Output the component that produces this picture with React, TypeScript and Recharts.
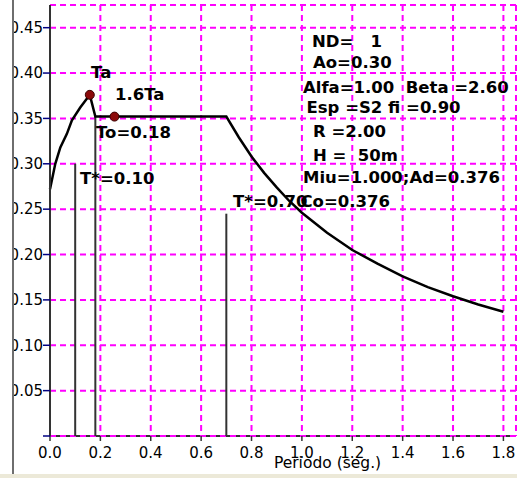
import {
  ComposedChart,
  Line,
  XAxis,
  YAxis,
  CartesianGrid,
  ReferenceLine,
  ReferenceDot,
} from "recharts";

/* ---------------- Spectrum data ---------------- */

// period T (s)
const PERIODS = [
  0, 0.021, 0.041, 0.067, 0.087, 0.12, 0.158, 0.18, 0.7, 0.75, 0.8, 0.85, 0.9,
  0.95, 1.0, 1.1, 1.2, 1.3, 1.4, 1.5, 1.6, 1.7, 1.8,
];
// spectral ordinate
const SPECTRUM = [
  0.272, 0.3, 0.318, 0.333, 0.348, 0.362, 0.376, 0.352, 0.352, 0.329, 0.308,
  0.29, 0.274, 0.259, 0.246, 0.224, 0.205, 0.19, 0.176, 0.164, 0.154, 0.145,
  0.137,
];

// Ta and 1.6Ta markers
const MARKER_T = [0.158, 0.256];
const MARKER_V = [0.376, 0.352];

// vertical guide lines: T*=0.10, To=0.18, T*=0.70
const GUIDE_T = [0.1, 0.18, 0.7];
const GUIDE_TOP = [0.3, 0.352, 0.245];

const X_TICKS = [0, 0.2, 0.4, 0.6, 0.8, 1.0, 1.2, 1.4, 1.6, 1.8];
const Y_TICKS = [0, 0.05, 0.1, 0.15, 0.2, 0.25, 0.3, 0.35, 0.4, 0.45];

const X_TITLE = "Periodo (seg.)";

const CURVE_LABELS = ["Ta", "1.6Ta", "To=0.18", "T*=0.10", "T*=0.70", "Co=0.376"];
const PARAM_LINES = [
  "ND=   1",
  "Ao=0.30",
  "Alfa=1.00  Beta =2.60",
  "Esp =S2 fi =0.90",
  "R =2.00",
  "H =  50m",
  "Miu=1.000;Ad=0.376",
];

/* ---------------- Layout (pixels) ---------------- */

const CURVE_LABEL_POS = [
  [91, 77.5],
  [115, 100],
  [96, 138],
  [80, 184],
  [233, 206.5],
  [300.5, 206.5],
];
const PARAM_POS = [
  [312, 47],
  [313, 68],
  [303, 92.5],
  [306.5, 113],
  [313, 137],
  [313, 160.5],
  [303, 183],
];

const MAGENTA = "#ff00ff";
const tickFont = { fontFamily: "DejaVu Sans", fontSize: 15, fill: "#000" };

// keep runs of spaces visible in svg text
const keepSpaces = (s: string) => s.replace(/ /g, "\u00a0");

export default function App() {
  const data = PERIODS.map((t, i) => ({ t, v: SPECTRUM[i] }));

  return (
    <div
      style={{
        position: "fixed",
        left: 0,
        top: 0,
        width: 517,
        height: 478,
        background: "#fff",
        overflow: "hidden",
      }}
    >
      {/* panel frame on the left + status strip at the bottom */}
      <div style={{ position: "absolute", left: 12, top: 0, width: 1.5, height: 474, background: "#6e6e6e" }} />
      <div style={{ position: "absolute", left: 0, top: 474, width: 517, height: 4, background: "#ece9d8" }} />

      {/* chart, clipped at the panel edge */}
      <div style={{ position: "absolute", left: 14, top: 0, width: 503, height: 474, overflow: "hidden" }}>
        <div style={{ position: "absolute", left: -14, top: 0 }}>
          <ComposedChart
            width={517}
            height={474}
            data={data}
            margin={{ top: 5, right: 1, left: 0, bottom: 0 }}
          >
            <CartesianGrid stroke={MAGENTA} strokeWidth={2} strokeDasharray="6 4" />
            <XAxis
              dataKey="t"
              type="number"
              domain={[0, 1.85]}
              ticks={X_TICKS}
              interval={0}
              tickFormatter={(v: number) => v.toFixed(1)}
              height={38}
              tickSize={5}
              tickMargin={6}
              tick={tickFont}
              axisLine={{ stroke: "#333", strokeWidth: 2, strokeDasharray: "4 6", strokeDashoffset: 4 }}
              tickLine={{ stroke: "#333", strokeWidth: 1.5 }}
            />
            <YAxis
              dataKey="v"
              type="number"
              domain={[0, 0.475]}
              ticks={Y_TICKS}
              interval={0}
              tickFormatter={(v: number) => (v === 0 ? "" : v.toFixed(2))}
              width={50}
              tickSize={7}
              tickMargin={0}
              tick={tickFont}
              axisLine={{ stroke: "#333", strokeWidth: 2 }}
              tickLine={{ stroke: "#000080", strokeWidth: 1.5 }}
            />

            {GUIDE_T.map((t, i) => (
              <ReferenceLine
                key={t}
                segment={[
                  { x: t, y: 0 },
                  { x: t, y: GUIDE_TOP[i] },
                ]}
                stroke="#333"
                strokeWidth={2}
              />
            ))}

            <Line
              type="linear"
              dataKey="v"
              stroke="#000"
              strokeWidth={2.5}
              dot={false}
              isAnimationActive={false}
            />

            {MARKER_T.map((t, i) => (
              <ReferenceDot
                key={t}
                x={t}
                y={MARKER_V[i]}
                r={4.5}
                fill="#8b0a0a"
                stroke="#3a0000"
                strokeWidth={1}
              />
            ))}
          </ComposedChart>
        </div>
      </div>

      {/* annotations */}
      <svg
        width={517}
        height={478}
        style={{ position: "absolute", left: 0, top: 0, pointerEvents: "none" }}
      >
        <g fontFamily="DejaVu Sans" fontWeight="bold" fontSize={16.5} fill="#000">
          {CURVE_LABELS.map((s, i) => (
            <text key={s} x={CURVE_LABEL_POS[i][0]} y={CURVE_LABEL_POS[i][1]}>
              {keepSpaces(s)}
            </text>
          ))}
          {PARAM_LINES.map((s, i) => (
            <text key={s} x={PARAM_POS[i][0]} y={PARAM_POS[i][1]}>
              {keepSpaces(s)}
            </text>
          ))}
        </g>
        <text
          x={327.5}
          y={467.5}
          textAnchor="middle"
          fontFamily="DejaVu Sans"
          fontSize={15.5}
          fill="#000"
        >
          {X_TITLE}
        </text>
      </svg>
    </div>
  );
}
